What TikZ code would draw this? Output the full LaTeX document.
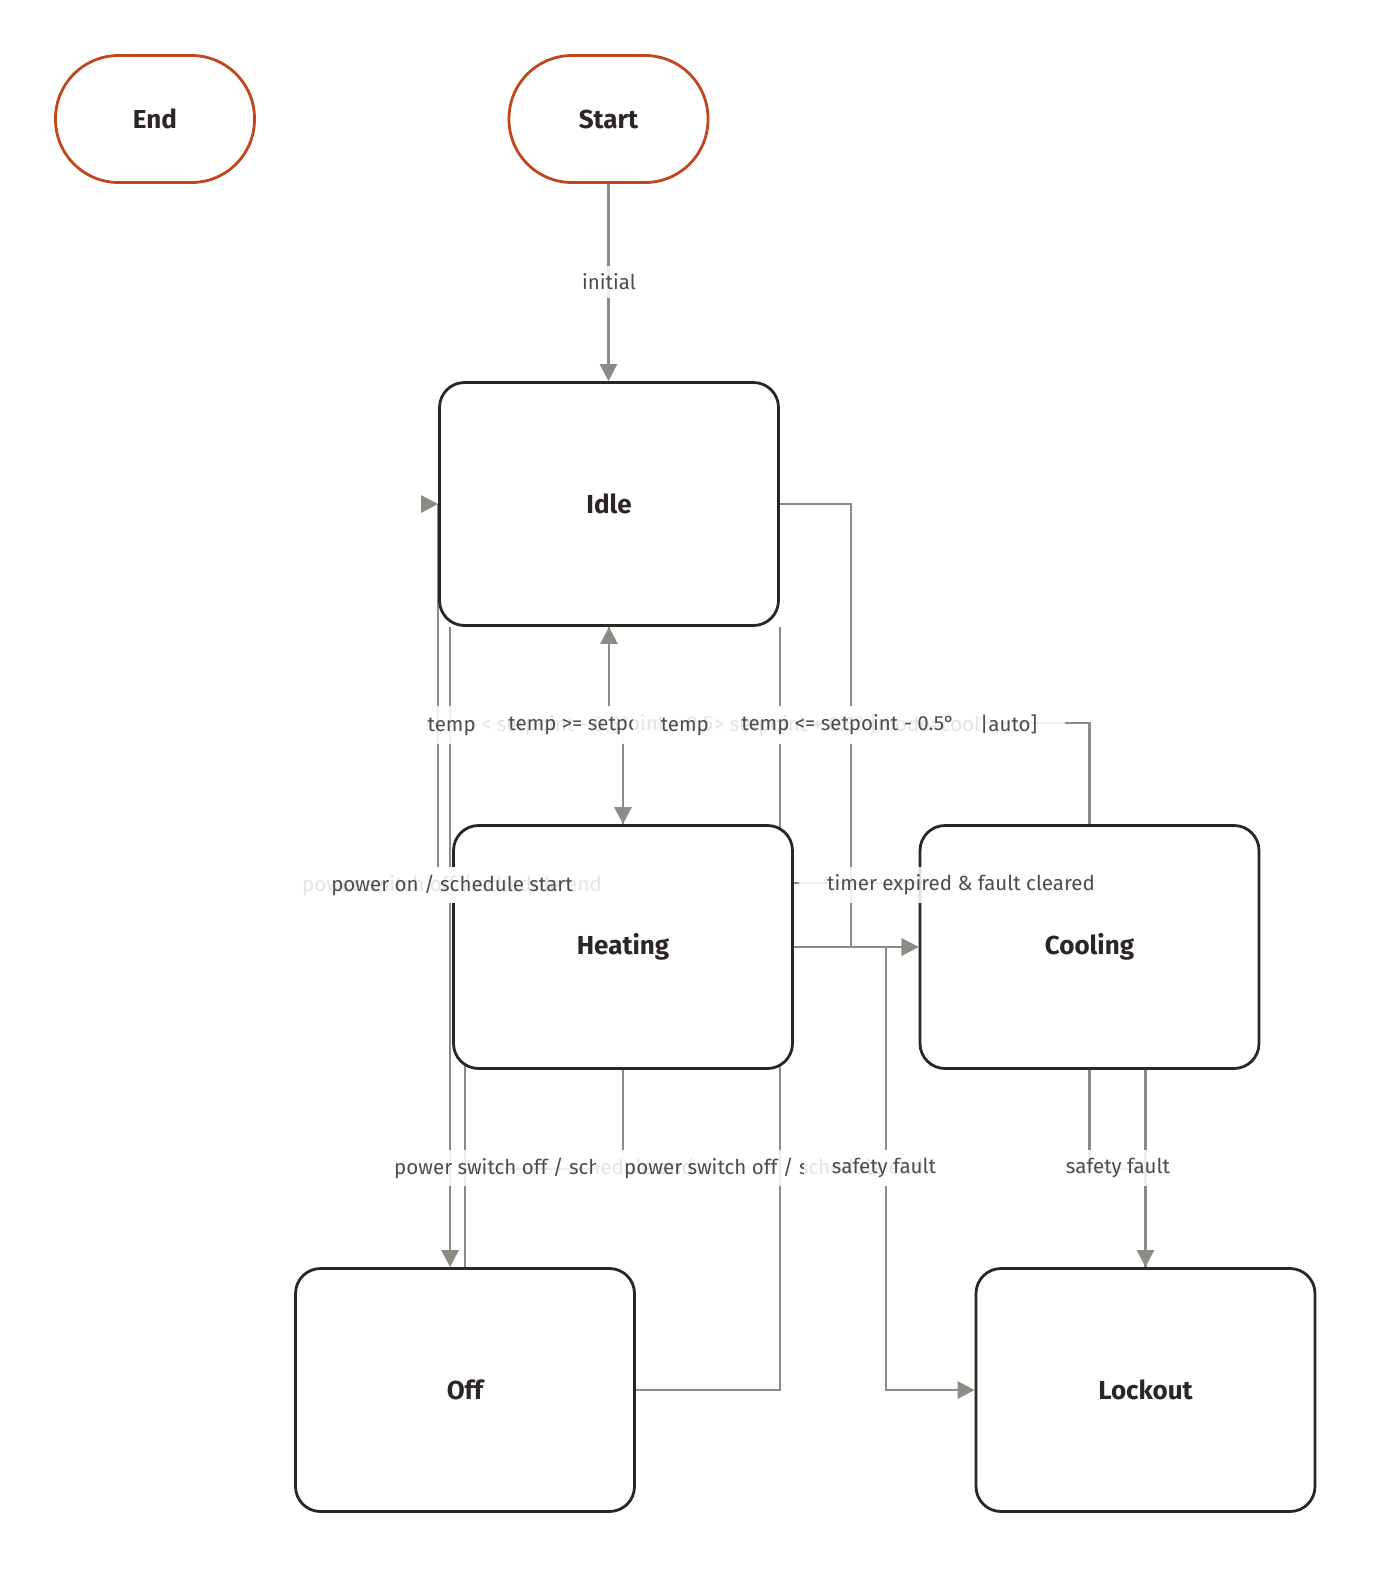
\documentclass[tikz,border=0pt]{standalone}
\usepackage{fontspec}
\setmainfont{Fira Sans}
\usetikzlibrary{arrows.meta,calc}
\pgfdeclarelayer{bg}
\pgfsetlayers{bg,main}
\definecolor{edgegray}{HTML}{8E8A84}
\definecolor{inkdark}{HTML}{2B2623}
\definecolor{rust}{HTML}{C2461C}
\definecolor{labelgray}{HTML}{4E4B48}

\begin{document}
\begin{tikzpicture}[x=1pt, y=-1pt,
	state/.style={draw=inkdark, line width=2.8pt, fill=white, rounded corners=25pt,
		minimum width=339pt, minimum height=243pt, text=inkdark,
		font=\fontsize{26}{29}\selectfont\bfseries},
	term/.style={draw=rust, line width=2.8pt, fill=white, rounded corners=63pt,
		minimum width=199pt, minimum height=127pt, text=inkdark,
		font=\fontsize{26}{29}\selectfont\bfseries},
	flow/.style={draw=edgegray, line width=2.6pt},
	tip/.style={-{Triangle[length=17pt,width=17pt]}},
	lbl/.style={fill=white, fill opacity=0.85, text opacity=1, text=labelgray,
		inner xsep=28pt, inner ysep=8pt, font=\fontsize{20.5}{22}\selectfont}]
\useasboundingbox (0,0) rectangle (1374,1572);
% terminals and states
\node[term] (endn) at (155,119) {End};
\node[term] (start) at (608.5,119) {Start};
\foreach \n/\t/\x/\y in {idle/Idle/609/504, heating/Heating/623/947,
	cooling/Cooling/1089.5/947, off/Off/465/1390, lockout/Lockout/1145.5/1390}
	\node[state] (\n) at (\x,\y) {\t};
% transitions, behind the boxes
\begin{pgfonlayer}{bg}
\coordinate (hmid) at ($(idle.south)!.5!(heating.north)$);
\coordinate (inidle) at ($(idle.west)+(-2,0)$);
\coordinate (idleoff) at ($(idle.south west)+(12,0)$);
\draw[flow,tip] (start.south) -- (start.south |- idle.north);
\draw[flow,tip] (idle.south) |- (hmid) -| (heating.north);
\draw[flow,tip] (heating.north) |- (hmid) -| (idle.south);
\draw[flow,tip] (idleoff) -- (idleoff |- off.north);
\draw[flow] (off.north) -- ++(0,-384) -| (idle.west);
\draw[flow,tip] (inidle) -- (idle.west);
\draw[flow] (heating.south) -- ++(0,99) -| (off.north);
\draw[flow] (cooling.north) -- ++(0,-101) -| ($(off.east)+(144,0)$) -- (off.east);
\draw[flow,tip] (idle.east) -- ++(71,0) |- (cooling.west);
\draw[flow,tip] (heating.east) -- (cooling.west);
\draw[flow,tip] (heating.east) -- ++(92,0) |- (lockout.west);
\draw[flow,tip] (cooling.south) -- ++(0,99) -| (lockout.north);
\draw[flow] (lockout.north) -- ++(0,-384) -| (idle.south east);
\end{pgfonlayer}
% labels, on top
\node[lbl] (l-init) at (609,282) {initial};
\node[lbl] (l-heat) at (616,725) {temp < setpoint - 0.5° [mode=heat|auto]};
\node[lbl] (l-idle1) at (616,725) {temp >= setpoint + 0.5°};
\node[lbl] (l-cool) at (849,725) {temp > setpoint + 0.5° [mode=cool|auto]};
\node[lbl] (l-idle2) at (848,725) {temp <= setpoint - 0.5°};
\node[lbl] (l-off1) at (452,885) {power switch off / schedule end};
\node[lbl] (l-on) at (452,885) {power on / schedule start};
\node[lbl] (l-timer) at (961,885) {timer expired \& fault cleared};
\node[lbl] (l-off2) at (544,1168) {power switch off / schedule end};
\node[lbl] (l-off3) at (774,1168) {power switch off / schedule end};
\node[lbl] (l-safe1) at (884,1168) {safety fault};
\node[lbl] (l-safe2) at (1118,1168) {safety fault};
\end{tikzpicture}
\end{document}
